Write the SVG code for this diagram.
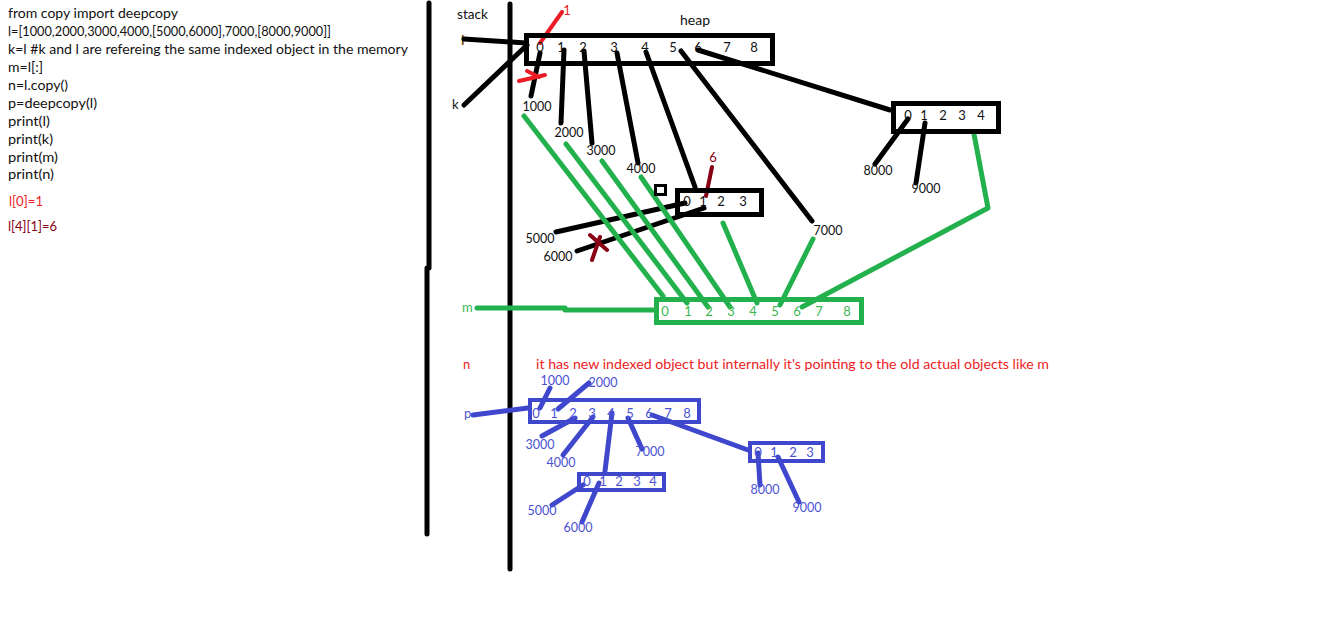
<svg xmlns="http://www.w3.org/2000/svg" width="1344" height="619" viewBox="0 0 1344 619">
<style>
text{font-family:Lato,"Liberation Sans",sans-serif;font-size:13px;fill:#111}
.code{font-size:14px}
.v{font-size:12.5px;text-anchor:middle}
.d{font-size:13px;text-anchor:middle}
.k{stroke:#000;stroke-width:5;fill:none;stroke-linecap:round}
.g{stroke:#22b14c;stroke-width:5;fill:none;stroke-linecap:round;stroke-linejoin:round}
.b{stroke:#3f48cc;stroke-width:5;fill:none;stroke-linecap:round}
.r{stroke:#ed1c24;stroke-width:4;fill:none;stroke-linecap:round}
.dr{stroke:#880015;stroke-width:4;fill:none;stroke-linecap:round}
.box{fill:none;stroke:#000;stroke-width:5}
.gbox{fill:none;stroke:#22b14c;stroke-width:5}
.bbox{fill:none;stroke:#3f48cc;stroke-width:4}
.gt{fill:#3cb850}
.bt{fill:#4a52d4}
.rt{fill:#ed1c24}
.drt{fill:#880015}
</style>
<rect width="1344" height="619" fill="#fff"/>

<g id="code">
<text class="code" x="8" y="18" textLength="170" lengthAdjust="spacingAndGlyphs">from copy import deepcopy</text>
<text class="code" x="8" y="36" textLength="323" lengthAdjust="spacingAndGlyphs">l=[1000,2000,3000,4000,[5000,6000],7000,[8000,9000]]</text>
<text class="code" x="8" y="54" textLength="400" lengthAdjust="spacingAndGlyphs">k=l #k and l are refereing the same indexed object in the memory</text>
<text class="code" x="8" y="72" textLength="35" lengthAdjust="spacingAndGlyphs">m=l[:]</text>
<text class="code" x="8" y="90" textLength="60" lengthAdjust="spacingAndGlyphs">n=l.copy()</text>
<text class="code" x="8" y="108" textLength="89" lengthAdjust="spacingAndGlyphs">p=deepcopy(l)</text>
<text class="code" x="8" y="126" textLength="42" lengthAdjust="spacingAndGlyphs">print(l)</text>
<text class="code" x="8" y="144" textLength="45" lengthAdjust="spacingAndGlyphs">print(k)</text>
<text class="code" x="8" y="162" textLength="50" lengthAdjust="spacingAndGlyphs">print(m)</text>
<text class="code" x="8" y="179" textLength="46" lengthAdjust="spacingAndGlyphs">print(n)</text>
<text class="code rt" x="9" y="206" textLength="34" lengthAdjust="spacingAndGlyphs">l[0]=1</text>
<text class="code drt" x="8" y="231" textLength="49" lengthAdjust="spacingAndGlyphs">l[4][1]=6</text>
</g>

<g id="dividers">
<path class="k" d="M429 3 L429 268 M427 268 L427 534"/>
<path class="k" d="M510 4 L510 569"/>
</g>

<g id="labels">
<text x="457" y="19" textLength="31" lengthAdjust="spacingAndGlyphs">stack</text>
<text x="680" y="25" textLength="30" lengthAdjust="spacingAndGlyphs">heap</text>
<text x="461" y="45" style="fill:#7a4a10;font-size:14px;font-weight:bold">l</text>
<text x="452" y="109">k</text>
<text x="462" y="312" class="gt">m</text>
<text x="463" y="369" class="rt">n</text>
<text x="464" y="418" class="bt">p</text>
<text x="536" y="369" class="rt" textLength="513" lengthAdjust="spacingAndGlyphs">it has new indexed object but internally it's pointing to the old actual objects like m</text>
<text x="567" y="15" class="d rt">1</text>
<text x="713" y="162" class="d drt">6</text>
</g>

<g id="connectors">
<path class="k" d="M464 39 L526 43"/>
<path class="k" d="M464 105 L527 45"/>
<path class="k" d="M540 53 L531 96"/>
<path class="k" d="M564 50 L561 123"/>
<path class="k" d="M584 51 L592 143"/>
<path class="k" d="M617 53 L638 163"/>
<path class="k" d="M646 52 L695 187"/>
<path class="k" d="M681 51 L812 221"/>
<path class="k" d="M698 50 L890 110"/>
<path class="k" d="M685 203 L556 232"/>
<path class="k" d="M704 208 L577 251"/>
<path class="k" d="M908 119 L875 164"/>
<path class="k" d="M925 123 L916 183"/>
<path class="r" d="M540 43 L562 12"/>
<path class="r" d="M519 81 L545 75 M527 71 L539 77"/>
<path class="dr" d="M706 196 L712 167"/>
<path class="dr" d="M590 235 L607 250 M600 237 L592 260"/>
<path class="g" d="M477 308 L565 308 M565 310 L655 310"/>
<path class="g" d="M524 116 L663 296"/>
<path class="g" d="M566 144 L687 303"/>
<path class="g" d="M602 161 L708 307"/>
<path class="g" d="M641 177 L730 307"/>
<path class="g" d="M723 223 L757 303"/>
<path class="g" d="M813 239 L780 305"/>
<path class="g" d="M974 134 L988 208 L802 307"/>
<path class="b" d="M473 415 L528 408"/>
<path class="b" d="M550 388 L540 408"/>
<path class="b" d="M589 383 L558 409"/>
<path class="b" d="M542 436 L575 418"/>
<path class="b" d="M563 455 L593 417"/>
<path class="b" d="M612 413 L605 471"/>
<path class="b" d="M628 418 L642 449"/>
<path class="b" d="M652 415 L748 450"/>
<path class="b" d="M758 453 L760 485"/>
<path class="b" d="M778 457 L799 502"/>
<path class="b" d="M552 505 L583 485"/>
<path class="b" d="M582 522 L599 483"/>
</g>

<g id="heap-l">
<rect class="box" x="526.5" y="35.5" width="246" height="28"/>
<text class="d" x="540" y="52">0</text>
<text class="d" x="561" y="52">1</text>
<text class="d" x="583" y="52">2</text>
<text class="d" x="614" y="52">3</text>
<text class="d" x="645" y="52">4</text>
<text class="d" x="673" y="52">5</text>
<text class="d" x="698" y="52">6</text>
<text class="d" x="727" y="52">7</text>
<text class="d" x="754" y="52">8</text>
</g>

<g id="heap-list-5000-6000">
<rect class="box" x="677.5" y="190.5" width="84" height="24"/>
<text class="d" x="687" y="206">0</text>
<text class="d" x="703" y="206">1</text>
<text class="d" x="721" y="206">2</text>
<text class="d" x="743" y="206">3</text>
</g>

<g id="marker-square">
<rect x="655.5" y="185.5" width="10" height="9" fill="none" stroke="#000" stroke-width="3"/>
</g>

<g id="heap-list-8000-9000">
<rect class="box" x="893.5" y="103.5" width="105" height="28"/>
<text class="d" x="908" y="120">0</text>
<text class="d" x="924" y="120">1</text>
<text class="d" x="943" y="120">2</text>
<text class="d" x="962" y="120">3</text>
<text class="d" x="981" y="120">4</text>
</g>

<g id="heap-values">
<text class="v" x="537" y="111">1000</text>
<text class="v" x="569" y="137">2000</text>
<text class="v" x="601" y="155">3000</text>
<text class="v" x="641" y="173">4000</text>
<text class="v" x="540" y="243">5000</text>
<text class="v" x="558" y="261">6000</text>
<text class="v" x="828" y="235">7000</text>
<text class="v" x="878" y="175">8000</text>
<text class="v" x="926" y="193">9000</text>
</g>

<g id="m-list">
<rect class="gbox" x="656.5" y="299.5" width="205" height="23"/>
<text class="d gt" x="665" y="316">0</text>
<text class="d gt" x="688" y="316">1</text>
<text class="d gt" x="709" y="316">2</text>
<text class="d gt" x="731" y="316">3</text>
<text class="d gt" x="753" y="316">4</text>
<text class="d gt" x="775" y="316">5</text>
<text class="d gt" x="797" y="316">6</text>
<text class="d gt" x="819" y="316">7</text>
<text class="d gt" x="847" y="316">8</text>
</g>

<g id="p-list">
<rect class="bbox" x="530" y="400" width="169" height="22"/>
<text class="d bt" x="536" y="418">0</text>
<text class="d bt" x="554" y="418">1</text>
<text class="d bt" x="573" y="418">2</text>
<text class="d bt" x="592" y="418">3</text>
<text class="d bt" x="611" y="418">4</text>
<text class="d bt" x="630" y="418">5</text>
<text class="d bt" x="649" y="418">6</text>
<text class="d bt" x="668" y="418">7</text>
<text class="d bt" x="687" y="418">8</text>
</g>

<g id="p-list-5000-6000">
<rect class="bbox" x="579" y="474" width="85" height="16"/>
<text class="d bt" x="587" y="486">0</text>
<text class="d bt" x="603" y="486">1</text>
<text class="d bt" x="619" y="486">2</text>
<text class="d bt" x="637" y="486">3</text>
<text class="d bt" x="653" y="486">4</text>
</g>

<g id="p-list-8000-9000">
<rect class="bbox" x="750" y="443" width="73" height="18"/>
<text class="d bt" x="758" y="457">0</text>
<text class="d bt" x="774" y="457">1</text>
<text class="d bt" x="793" y="457">2</text>
<text class="d bt" x="810" y="457">3</text>
</g>

<g id="p-values">
<text class="v bt" x="555" y="385">1000</text>
<text class="v bt" x="603" y="387">2000</text>
<text class="v bt" x="540" y="449">3000</text>
<text class="v bt" x="561" y="467">4000</text>
<text class="v bt" x="650" y="456">7000</text>
<text class="v bt" x="542" y="515">5000</text>
<text class="v bt" x="578" y="532">6000</text>
<text class="v bt" x="765" y="494">8000</text>
<text class="v bt" x="807" y="512">9000</text>
</g>
</svg>
